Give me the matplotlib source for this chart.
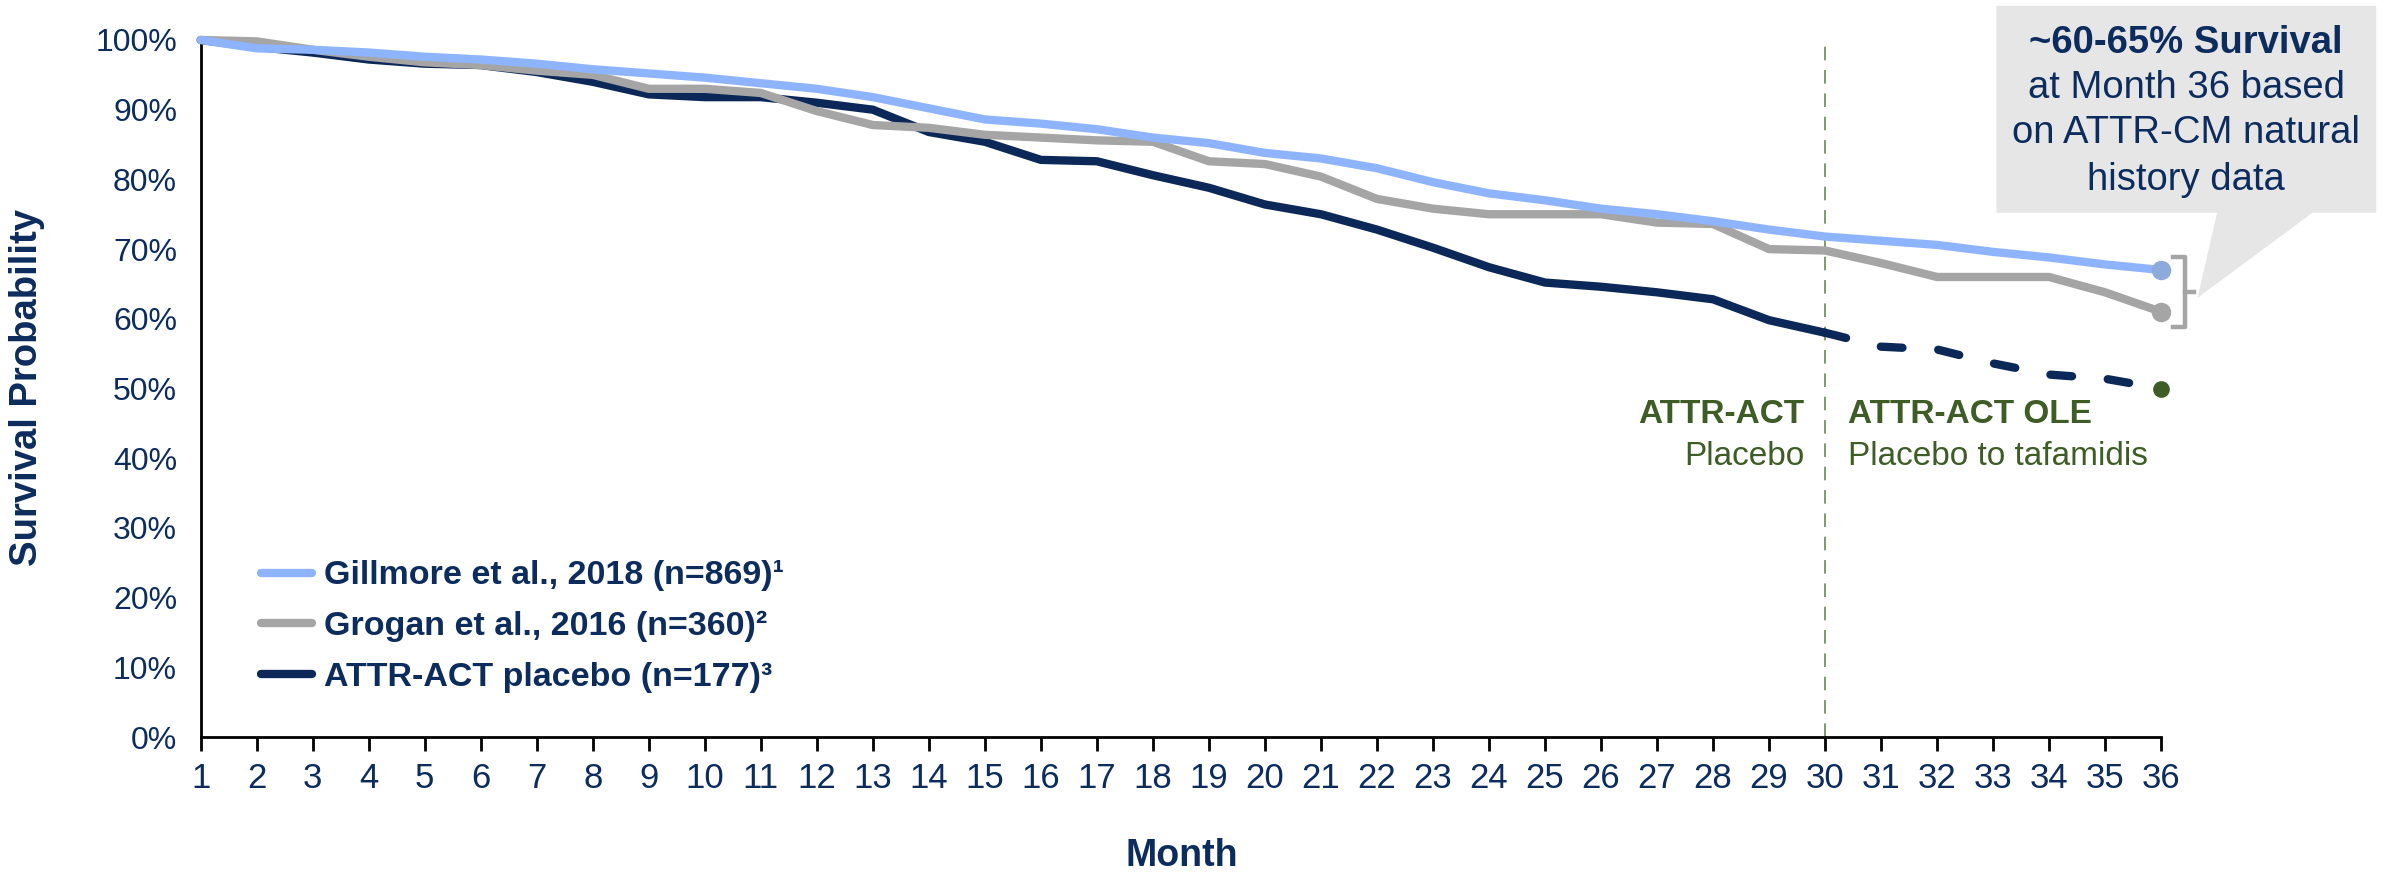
import numpy as np
import matplotlib
matplotlib.use("Agg")
import matplotlib.pyplot as plt
from matplotlib.patches import Polygon
from matplotlib.ticker import PercentFormatter

# Kaplan-Meier style survival estimates (%), by month
months = np.arange(1, 37)
gillmore = [100.0, 98.8, 98.6, 98.2, 97.6, 97.2, 96.6, 95.8, 95.2, 94.6,
            93.8, 93.0, 91.8, 90.2, 88.6, 88.0, 87.2, 86.0, 85.2, 83.8,
            83.0, 81.6, 79.6, 78.0, 77.0, 75.8, 75.0, 74.0, 72.8, 71.8,
            71.2, 70.6, 69.6, 68.8, 67.8, 67.0]
grogan = [100.0, 99.8, 98.6, 97.6, 96.8, 96.4, 95.6, 95.0, 93.0, 93.0,
          92.4, 89.8, 87.8, 87.4, 86.4, 86.0, 85.6, 85.4, 82.6, 82.2,
          80.4, 77.2, 75.8, 75.0, 75.0, 75.0, 73.8, 73.6, 70.0, 69.8,
          68.0, 66.0, 66.0, 66.0, 63.8, 61.0]
attr_act = [100.0, 99.0, 98.2, 97.2, 96.6, 96.4, 95.4, 94.0, 92.2, 91.8,
            91.8, 91.0, 90.0, 86.8, 85.4, 82.8, 82.6, 80.6, 78.8, 76.4,
            75.0, 72.8, 70.2, 67.4, 65.2, 64.6, 63.8, 62.8, 59.8, 58.0]
ole_months = np.arange(30, 37)
attr_act_ole = [58.0, 56.0, 55.6, 53.6, 52.0, 51.4, 50.0]
ole_month36 = 50.0

labels = ["Gillmore et al., 2018 (n=869)\u00b9",
          "Grogan et al., 2016 (n=360)\u00b2",
          "ATTR-ACT placebo (n=177)\u00b3"]

BLUE = "#8FB4FF"
BLUE_DOT = "#8EAADB"
GREY = "#A5A5A5"
NAVY = "#0C2858"
TEXT = "#0D2C5E"
GREEN = "#3E5C25"

plt.rcParams["font.family"] = ["Liberation Sans", "DejaVu Sans"]

fig = plt.figure(figsize=(23.89, 8.75), dpi=100)
ax = fig.add_axes([0.0840, 0.1577, 0.8206, 0.7966])

lw = 6
l3, = ax.plot(months[:len(attr_act)], attr_act, color=NAVY, lw=lw,
              solid_capstyle="round", zorder=3, clip_on=False)
ax.plot(ole_months, attr_act_ole, color=NAVY, lw=lw, ls=(0, (2.6, 4.3)),
        dash_capstyle="round", zorder=3, clip_on=False)
l2, = ax.plot(months, grogan, color=GREY, lw=lw, solid_capstyle="round",
              zorder=4, clip_on=False)
l1, = ax.plot(months, gillmore, color=BLUE, lw=lw, solid_capstyle="round",
              zorder=5, clip_on=False)

# end-of-follow-up markers
ax.plot(months[-1], gillmore[-1], "o", color=BLUE_DOT, ms=13, zorder=6, clip_on=False)
ax.plot(months[-1], grogan[-1], "o", color=GREY, ms=13, zorder=6, clip_on=False)
ax.plot(36, ole_month36, "o", color=GREEN, ms=11, zorder=6, clip_on=False)

# study transition at month 30
ax.axvline(30, ymin=0, ymax=1.0, color="#7E9A6E", lw=1.4, ls=(0, (7, 5)), zorder=1)
ax.text(29.63, 46.3, "ATTR-ACT", color=GREEN, fontsize=24, fontweight="bold",
        ha="right", va="center")
ax.text(29.63, 40.2, "Placebo", color=GREEN, fontsize=24, ha="right", va="center")
ax.text(30.41, 46.3, "ATTR-ACT OLE", color=GREEN, fontsize=24, fontweight="bold",
        ha="left", va="center")
ax.text(30.41, 40.2, "Placebo to tafamidis", color=GREEN, fontsize=24,
        ha="left", va="center")

# bracket grouping the two natural-history endpoints
bx0, bx1, btick = 36.22, 36.43, 36.58
by0, by1 = 58.8, 68.9
ax.plot([bx0, bx1, bx1, bx0], [by1, by1, by0, by0], color=GREY, lw=3.2,
        solid_joinstyle="round", clip_on=False, zorder=6)
ax.plot([bx1, btick], [(by0 + by1) / 2] * 2, color=GREY, lw=3.2, clip_on=False, zorder=6)

# speech-bubble callout
bubble = Polygon([(33.06, 104.9), (39.84, 104.9), (39.84, 75.2), (38.70, 75.2),
                  (36.65, 63.0), (37.00, 75.2), (33.06, 75.2)],
                 closed=True, facecolor="#E6E6E6", edgecolor="none",
                 clip_on=False, zorder=2)
ax.add_patch(bubble)
ax.text(36.45, 99.6, "~60-65% Survival", color=TEXT, fontsize=27.5,
        fontweight="bold", ha="center", va="center", zorder=7)
for y, line in zip([93.1, 86.7, 79.9],
                   ["at Month 36 based", "on ATTR-CM natural", "history data"]):
    ax.text(36.45, y, line, color=TEXT, fontsize=27.5, ha="center",
            va="center", zorder=7)

ax.set_xlim(1, 36)
ax.set_ylim(0, 100)
ax.set_xticks(months)
ax.set_yticks(np.arange(0, 101, 10))
ax.yaxis.set_major_formatter(PercentFormatter(100, decimals=0))
ax.tick_params(axis="x", length=10, width=2, pad=8, labelsize=25, labelcolor=TEXT)
ax.tick_params(axis="y", length=0, pad=17, labelsize=23, labelcolor=TEXT)
for side in ["top", "right"]:
    ax.spines[side].set_visible(False)
for side in ["left", "bottom"]:
    ax.spines[side].set_linewidth(2)
    ax.spines[side].set_color("black")

fig.text(27 / 2389, 0.557, "Survival Probability", rotation=90, color=TEXT,
         fontsize=27.5, fontweight="bold", ha="center", va="center")
fig.text(1182 / 2389, 1 - 856 / 875, "Month", color=TEXT, fontsize=27,
         fontweight="bold", ha="center", va="center")

leg = ax.legend([l1, l2, l3], labels, loc="lower left",
                bbox_to_anchor=(0.0150, 0.019), frameon=False,
                handlelength=1.5, handletextpad=0.35, labelspacing=0.58,
                prop={"size": 24.5, "weight": "bold"})
for t in leg.get_texts():
    t.set_color(TEXT)

fig.savefig("out.png", dpi=100)
